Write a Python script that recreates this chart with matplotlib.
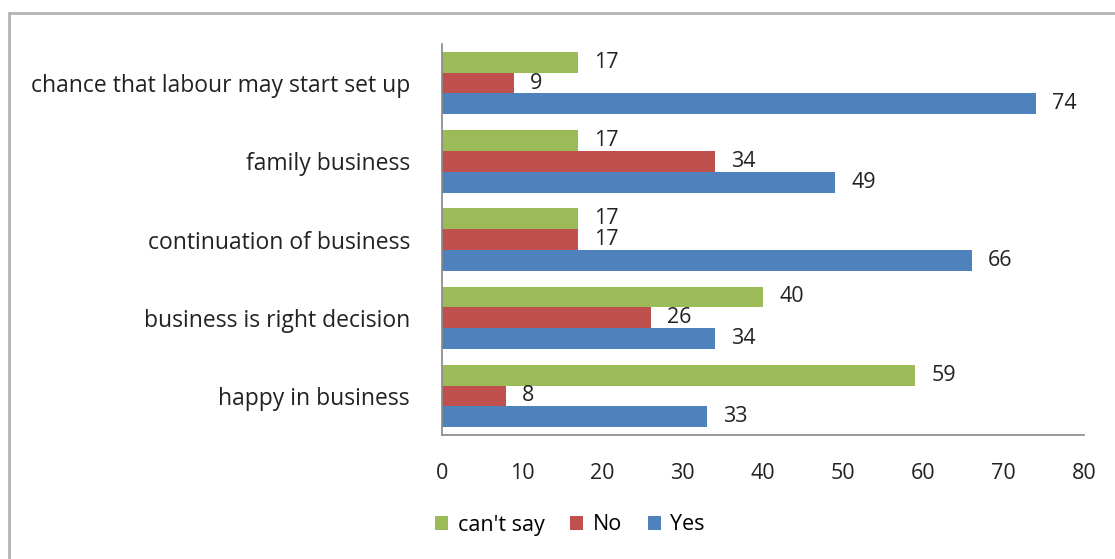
import numpy as np
import matplotlib.pyplot as plt
from matplotlib.patches import Rectangle

plt.rcParams['font.family'] = ['Open Sans', 'DejaVu Sans']

categories = ["happy in business", "business is right decision", "continuation of business",
              "family business", "chance that labour may start set up"]
cant_say = [59, 40, 17, 17, 17]
no = [8, 26, 17, 34, 9]
yes = [33, 34, 66, 49, 74]
xticks = [0, 10, 20, 30, 40, 50, 60, 70, 80]

series = [("can't say", cant_say, "#9BBB59"),
          ("No", no, "#C0504D"),
          ("Yes", yes, "#4F81BD")]

fs = 15.5

fig = plt.figure(figsize=(11.15, 5.59), dpi=100)
ax = fig.add_axes([0.3964, 0.2218, 0.5758, 0.6995])

# outer chart border (cropped at right/bottom)
fig.patches.append(Rectangle((9 / 1115, -0.05), 1.2, 1.05 - 13 / 559,
                             transform=fig.transFigure, fill=False,
                             edgecolor="#b3b3b3", linewidth=2))

y = np.arange(len(categories))
h = 0.266
offsets = [h, 0, -h]
for (name, vals, col), off in zip(series, offsets):
    bars = ax.barh(y + off, vals, height=h, color=col, label=name)
    for b, v in zip(bars, vals):
        ax.text(v + 2.0, b.get_y() + b.get_height() / 2, str(v),
                va="center", ha="left", fontsize=fs, color="#222222")

ax.set_xlim(0, 80)
ax.set_ylim(-0.5, len(categories) - 0.5)
ax.set_xticks(xticks)
ax.set_yticks(y)
ax.set_yticklabels(categories, fontsize=16.5)
ax.tick_params(axis="both", length=0, colors="#222222")
ax.tick_params(axis="x", pad=20, labelsize=fs)
ax.tick_params(axis="y", pad=23)
for s in ["top", "right"]:
    ax.spines[s].set_visible(False)
for s in ["left", "bottom"]:
    ax.spines[s].set_color("#888888")
    ax.spines[s].set_linewidth(1.2)

ax.legend(loc="center", bbox_to_anchor=(570 / 1115, 1 - 525 / 559),
          bbox_transform=fig.transFigure, ncol=3, frameon=False,
          fontsize=fs, handlelength=0.6, handleheight=0.6,
          handletextpad=0.45, columnspacing=1.2)

fig.savefig("out.png", dpi=100)
